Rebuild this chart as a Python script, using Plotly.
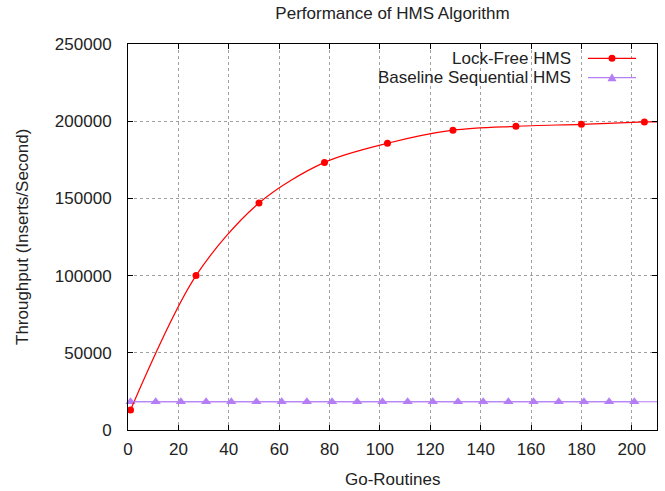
import plotly.graph_objects as go

# ---- data ----
LOCKFREE_X = [1, 27, 52, 78, 103, 129, 154, 180, 205]
LOCKFREE_Y = [13000, 100000, 147000, 173300, 185700, 194200, 196700, 198000, 199500]
# line continues to the right border after the last marker
LOCKFREE_TAIL_X = [210]
LOCKFREE_TAIL_Y = [199600]

BASELINE_X = [1, 11, 21, 31, 41, 51, 61, 71, 81, 91, 101, 111, 121, 131, 141,
              151, 161, 171, 181, 191, 201]
BASELINE_Y = [18300, 18300, 18300, 18300, 18300, 18300, 18300, 18300, 18300,
              18300, 18300, 18300, 18300, 18300, 18300, 18300, 18300, 18300,
              18300, 18300, 18300]
BASELINE_LEVEL = 18300

X_TICKS = [0, 20, 40, 60, 80, 100, 120, 140, 160, 180, 200]
Y_TICKS = [0, 50000, 100000, 150000, 200000, 250000]

SERIES_NAMES = ["Lock-Free HMS", "Baseline Sequential HMS"]
TITLE = "Performance of HMS Algorithm"
X_TITLE = "Go-Routines"
Y_TITLE = "Throughput (Inserts/Second)"

RED = "#ff0000"
PURPLE = "#b57ef5"
FONT = "Liberation Sans, Arial, sans-serif"
FS = 17

fig = go.Figure()

# baseline line spanning the full plot width
fig.add_hline(y=BASELINE_LEVEL, line=dict(color=PURPLE, width=1.2), layer="above")

fig.add_trace(go.Scatter(
    x=BASELINE_X, y=BASELINE_Y, mode="lines+markers",
    line=dict(color=PURPLE, width=1.2),
    marker=dict(symbol="triangle-up", size=9, color=PURPLE),
    showlegend=False, cliponaxis=False))

fig.add_trace(go.Scatter(
    x=LOCKFREE_X + LOCKFREE_TAIL_X, y=LOCKFREE_Y + LOCKFREE_TAIL_Y, mode="lines",
    line=dict(color=RED, width=1.2, shape="spline", smoothing=0.9),
    showlegend=False, cliponaxis=True))

fig.add_trace(go.Scatter(
    x=LOCKFREE_X, y=LOCKFREE_Y, mode="markers",
    marker=dict(symbol="circle", size=7, color=RED),
    showlegend=False, cliponaxis=False))

axis_common = dict(
    showline=True, linecolor="black", linewidth=1, mirror="ticks",
    ticks="inside", ticklen=5, tickcolor="black", tickwidth=1,
    showgrid=True, gridcolor="#a0a0a0", gridwidth=1, griddash="dot",
    zeroline=False, tickfont=dict(family=FONT, size=FS, color="#222222"),
)

fig.update_xaxes(range=[0, 210], tickvals=X_TICKS, ticklabelstandoff=4, **axis_common)
fig.update_yaxes(range=[0, 250000], tickvals=Y_TICKS,
                 ticktext=[str(v) for v in Y_TICKS], ticklabelstandoff=12, **axis_common)

# ---- manual gnuplot-style legend (text right, sample left of border) ----
W, H = 529.0, 386.0
def px(xp):
    return (xp - 128.0) / W
def py(yp):
    return (430.0 - yp) / H

rows = [(58.3, RED, "circle"), (77.7, PURPLE, "triangle")]
for (yc, col, sym), name in zip(rows, SERIES_NAMES):
    fig.add_annotation(x=px(573), y=py(yc), xref="paper", yref="paper",
                       text=name, showarrow=False, xanchor="right", yanchor="middle",
                       font=dict(family=FONT, size=FS, color="#222222"))
    fig.add_shape(type="line", xref="paper", yref="paper",
                  x0=px(588), x1=px(636), y0=py(yc), y1=py(yc),
                  line=dict(color=col, width=1.2))
    if sym == "circle":
        fig.add_shape(type="circle", xref="paper", yref="paper",
                      xsizemode="pixel", ysizemode="pixel",
                      xanchor=px(612), yanchor=py(yc),
                      x0=-3.5, x1=3.5, y0=-3.5, y1=3.5,
                      fillcolor=col, line=dict(color=col, width=0))
    else:
        fig.add_shape(type="path", xref="paper", yref="paper",
                      xsizemode="pixel", ysizemode="pixel",
                      xanchor=px(612), yanchor=py(yc),
                      path="M -4.5,-3.5 L 4.5,-3.5 L 0,4.5 Z",
                      fillcolor=col, line=dict(color=col, width=0))

# axis titles
fig.add_annotation(x=0.5, y=py(479), xref="paper", yref="paper", text=X_TITLE,
                   showarrow=False, xanchor="center", yanchor="middle",
                   font=dict(family=FONT, size=FS, color="#222222"))
fig.add_annotation(x=px(22), y=0.5, xref="paper", yref="paper", text=Y_TITLE,
                   showarrow=False, xanchor="center", yanchor="middle", textangle=-90,
                   font=dict(family=FONT, size=FS, color="#222222"))

fig.update_layout(
    width=665, height=491,
    margin=dict(l=128, r=8, t=44, b=61),
    paper_bgcolor="white", plot_bgcolor="white",
    title=dict(text=TITLE, x=0.5, xref="paper", y=1 - 13 / 491, yref="container",
               xanchor="center", yanchor="middle",
               font=dict(family=FONT, size=FS, color="#222222")),
    showlegend=False,
)

fig.write_html("out.html", config={"displayModeBar": False},
               post_script="document.body.style.margin='0';document.body.style.overflow='hidden';")
